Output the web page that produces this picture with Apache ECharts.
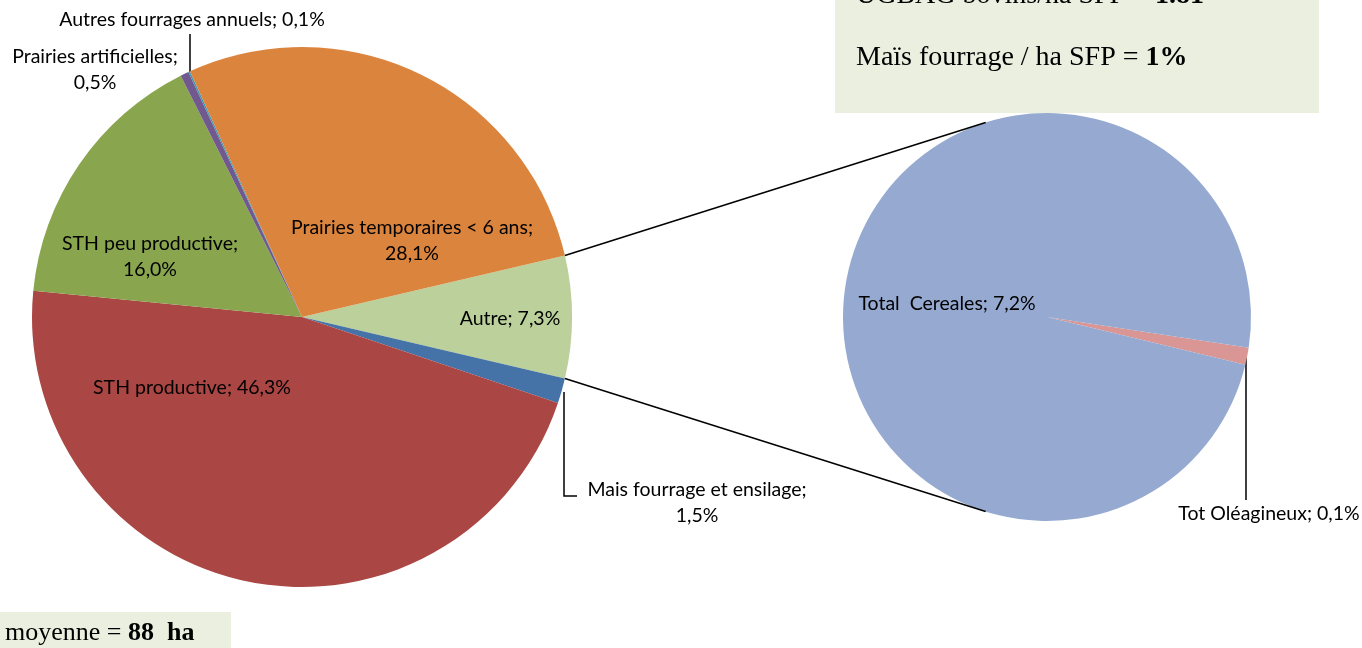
<!DOCTYPE html>
<html>
<head>
<meta charset="utf-8">
<script src="https://cdn.jsdelivr.net/npm/echarts@6/dist/echarts.min.js"></script>
<style>
  html, body { margin: 0; padding: 0; background: #fff; }
  #chart { width: 1362px; height: 648px; }
</style>
</head>
<body>
<div id="chart"></div>
<script>
// main pie (SFP breakdown), clockwise starting from "Autre"
const mainNames = ['Autre', 'Mais fourrage et ensilage', 'STH productive', 'STH peu productive',
  'Prairies artificielles', 'Autres fourrages annuels', 'Prairies temporaires < 6 ans'];
const mainValues = [7.3, 1.5, 46.3, 16.0, 0.5, 0.1, 28.1];
const mainColors = ['#BBD09A', '#4572A7', '#AA4643', '#89A54E', '#71588F', '#4198AF', '#DB843D'];
const mainWrap = [false, true, false, true, true, false, true];

// secondary pie (detail of "Autre")
const subNames = ['Tot Oléagineux', 'Total  Cereales'];
const subValues = [0.1, 7.2];
const subColors = ['#D99694', '#95A9D1'];

// label placement (center of text) + leader lines
const mainLabelPos = [[510, 319], [697, 503], [192, 388], [150, 257], [95, 70], [192, 20], [412, 241]];
const mainLeaders = { 1: [[564, 392], [564, 496], [577, 496]], 5: [[190, 72], [190, 53], [190, 34]] };
const subLabelPos = [[1269, 514], [947, 304]];
const subLeaders = { 0: [[1246, 358], [1246, 430], [1246, 500]] };

const leftC = [302, 317], leftR = 270;
const rightC = [1047, 317], rightR = 204;

var total = mainValues.reduce((a, b) => a + b, 0);
var half = mainValues[0] / total * 180;
var subTotal = subValues.reduce((a, b) => a + b, 0);
var subStart = -11.1 + subValues[0] / subTotal * 180;

function fmt(v) { return v.toFixed(1).replace('.', ','); }

function pt(c, r, deg) {
  var a = deg * Math.PI / 180;
  return [c[0] + r * Math.cos(a), c[1] - r * Math.sin(a)];
}

var labelFont = { fontFamily: 'Lato', fontSize: 19.5, color: '#000', lineHeight: 26 };

function serif(size) {
  return {
    n: { fontFamily: 'Liberation Serif', fontSize: size, fill: '#000' },
    b: { fontFamily: 'Liberation Serif', fontSize: size, fontWeight: 'bold', fill: '#000' }
  };
}

var myChart = echarts.init(document.getElementById('chart'));

var p1 = pt(leftC, leftR, half), p2 = pt(leftC, leftR, -half);
var q1 = pt(rightC, rightR, 107.5), q2 = pt(rightC, rightR, -107.5);

var option = {
  backgroundColor: '#fff',
  animation: false,
  graphic: [
    { type: 'rect', shape: { x: 835, y: 0, width: 484, height: 113 }, style: { fill: '#EBEFDF' }, z: 0 },
    { type: 'rect', shape: { x: 0, y: 612, width: 231, height: 36 }, style: { fill: '#EBEFDF' }, z: 0 },
    { type: 'text', x: 856, y: -4, style: {
        text: '{n|UGBAG bovins/ha SFP = }{b|1.81}', verticalAlign: 'middle', rich: serif(28) } },
    { type: 'text', x: 856, y: 58, style: {
        text: '{n|Maïs fourrage / ha SFP = }{b|1%}', verticalAlign: 'middle', rich: serif(28) } },
    { type: 'text', x: 5, y: 633, style: {
        text: '{n|moyenne = }{b|88  ha}', verticalAlign: 'middle', rich: serif(26) } },
    { type: 'line', shape: { x1: p1[0], y1: p1[1], x2: q1[0], y2: q1[1] }, style: { stroke: '#000', lineWidth: 1.5 }, z: 10 },
    { type: 'line', shape: { x1: p2[0], y1: p2[1], x2: q2[0], y2: q2[1] }, style: { stroke: '#000', lineWidth: 1.5 }, z: 10 }
  ],
  series: [
    {
      type: 'pie',
      center: leftC,
      radius: leftR,
      startAngle: half,
      clockwise: true,
      avoidLabelOverlap: false,
      itemStyle: { borderWidth: 0 },
      label: Object.assign({ show: true, position: 'outside', align: 'center' }, labelFont),
      labelLine: { show: false, lineStyle: { color: '#000', width: 1.5 } },
      labelLayout: function (params) {
        var i = params.dataIndex;
        var r = { x: mainLabelPos[i][0], y: mainLabelPos[i][1], align: 'center', verticalAlign: 'middle' };
        if (mainLeaders[i]) r.labelLinePoints = mainLeaders[i];
        return r;
      },
      data: mainNames.map(function (n, i) {
        return {
          name: n, value: mainValues[i],
          itemStyle: { color: mainColors[i] },
          labelLine: { show: !!mainLeaders[i] },
          label: { formatter: n + ';' + (mainWrap[i] ? '\n' : ' ') + fmt(mainValues[i]) + '%' }
        };
      })
    },
    {
      type: 'pie',
      center: rightC,
      radius: rightR,
      startAngle: subStart,
      clockwise: true,
      avoidLabelOverlap: false,
      itemStyle: { borderWidth: 0 },
      label: Object.assign({ show: true, position: 'outside', align: 'center' }, labelFont),
      labelLine: { show: false, lineStyle: { color: '#000', width: 1.5 } },
      labelLayout: function (params) {
        var i = params.dataIndex;
        var r = { x: subLabelPos[i][0], y: subLabelPos[i][1], align: 'center', verticalAlign: 'middle' };
        if (subLeaders[i]) r.labelLinePoints = subLeaders[i];
        return r;
      },
      data: subNames.map(function (n, i) {
        return {
          name: n, value: subValues[i],
          itemStyle: { color: subColors[i] },
          labelLine: { show: !!subLeaders[i] },
          label: { formatter: n + '; ' + fmt(subValues[i]) + '%' }
        };
      })
    }
  ]
};

myChart.setOption(option);
</script>
</body>
</html>
